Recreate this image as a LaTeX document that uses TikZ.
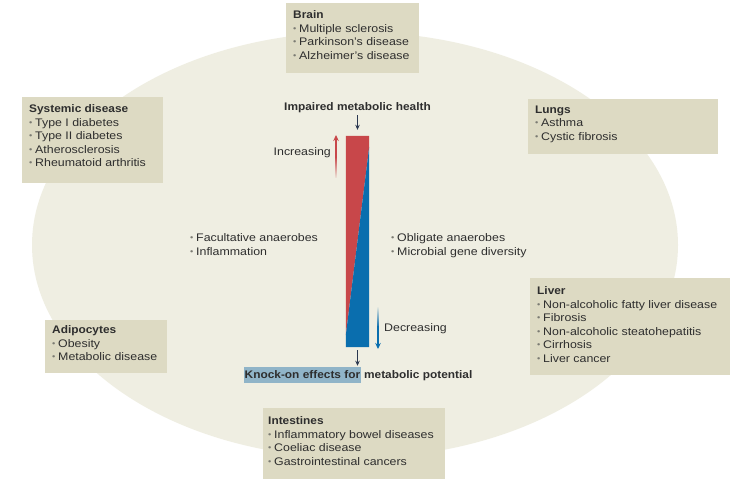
\documentclass[tikz,border=0pt]{standalone}
\usepackage{fontspec}
\setmainfont{Liberation Sans}[FakeStretch=1.125]
\newfontfamily\boldf{Liberation Sans}[FakeStretch=1.08]
\usetikzlibrary{arrows.meta,fadings}
\definecolor{ell}{HTML}{EFEEE2}
\definecolor{boxc}{HTML}{DDDAC3}
\definecolor{txtc}{HTML}{2E2E2E}
\definecolor{bulc}{HTML}{7A7A72}
\definecolor{barred}{HTML}{C8474A}
\definecolor{barblue}{HTML}{0A6EAE}
\definecolor{navy}{HTML}{2B3850}
\definecolor{hili}{HTML}{90B4C8}
\newcommand\bul{{\color{bulc}\raisebox{0.15ex}{\scalebox{0.75}{\textbullet}}}\hspace{0.25em}}
\newcommand\ttlf[1]{{\boldf\bfseries #1}}
\begin{document}
\begin{tikzpicture}[x=1pt,y=-1pt,
  every node/.style={text=txtc},
  boxst/.style={fill=boxc, draw=none, anchor=north west, inner sep=0pt},
  listtxt/.style={anchor=north west, inner sep=0pt, align=left, font=\fontsize{11}{13.5}\selectfont},
  lbl/.style={inner sep=0pt, font=\fontsize{11}{13.5}\selectfont},
  ttl/.style={inner sep=0pt, font=\fontsize{11}{13.5}\selectfont\boldf\bfseries},
  darr/.style={navy, line width=1pt, -{Stealth[length=5pt,width=4.5pt]}},
  colarr/.style={line width=1.8pt, -{Stealth[length=6pt,width=5.5pt]}}
]
\useasboundingbox (0,0) rectangle (743,484);
\fill[white] (0,0) rectangle (743,484);
\fill[ell] (355,245) ellipse [x radius=323, y radius=213];

% boxes
\node[boxst, minimum width=133, minimum height=70] (brainbox) at (286,3) {};
\node[boxst, minimum width=141, minimum height=86] (sysbox) at (22,97) {};
\node[boxst, minimum width=190, minimum height=55] (lungbox) at (528,99) {};
\node[boxst, minimum width=200, minimum height=97] (liverbox) at (530,278) {};
\node[boxst, minimum width=182, minimum height=71] (intbox) at (263,408) {};
\node[boxst, minimum width=122, minimum height=53] (adibox) at (45,320) {};

% box texts
\node[listtxt] (brain) at (293,10.5) {\ttlf{Brain}\\\bul Multiple sclerosis\\\bul Parkinson’s disease\\\bul Alzheimer’s disease};
\node[listtxt] (sys) at (29,104.5) {\ttlf{Systemic disease}\\\bul Type I diabetes\\\bul Type II diabetes\\\bul Atherosclerosis\\\bul Rheumatoid arthritis};
\node[listtxt] (lung) at (535,105.5) {\ttlf{Lungs}\\\bul Asthma\\\bul Cystic fibrosis};
\node[listtxt] (liver) at (537,286.5) {\ttlf{Liver}\\\bul Non-alcoholic fatty liver disease\\\bul Fibrosis\\\bul Non-alcoholic steatohepatitis\\\bul Cirrhosis\\\bul Liver cancer};
\node[listtxt] (int) at (268,416.5) {\ttlf{Intestines}\\\bul Inflammatory bowel diseases\\\bul Coeliac disease\\\bul Gastrointestinal cancers};
\node[listtxt] (adi) at (52,325.5) {\ttlf{Adipocytes}\\\bul Obesity\\\bul Metabolic disease};

% middle lists
\node[listtxt] (left) at (190,233.5) {\bul Facultative anaerobes\\\bul Inflammation};
\node[listtxt] (right) at (391,233.5) {\bul Obligate anaerobes\\\bul Microbial gene diversity};

% central bar
\node[minimum width=23, minimum height=211, inner sep=0pt, draw=none] (bar) at (357.5,241.5) {};
\fill[barred] (bar.north west) -- (bar.north east) -- ([yshift=-11pt]bar.north east) -- ([yshift=12pt]bar.south west) -- cycle;
\fill[barblue] ([yshift=-11pt]bar.north east) -- (bar.south east) -- (bar.south west) -- ([yshift=12pt]bar.south west) -- cycle;

% labels
\node[ttl] (imp) at (357.5,108) {Impaired metabolic health};
\draw[darr, shorten <=2pt, shorten >=6pt] (imp.south -| bar.north) -- (bar.north);

\node[ttl, fill=hili, inner xsep=0.5pt, inner ysep=4pt, anchor=west] (knockA) at (244,375) {Knock-on effects for};
\node[ttl, anchor=base west] (knockB) at ([xshift=3pt]knockA.base east) {metabolic potential};
\draw[darr, shorten <=3pt, shorten >=1pt] (bar.south) -- (bar.south |- knockA.north);

\node[lbl, anchor=east] (inc) at (331,153) {Increasing};
\node[lbl, anchor=west] (dec) at (384,329) {Decreasing};
\coordinate (incTop) at (336,135);
\coordinate (incMid) at (336,158);
\coordinate (incBot) at (336,178);
\coordinate (decTop) at (378,307);
\coordinate (decMid) at (378,326);
\coordinate (decBot) at (378,349);
\draw[barred, line width=1.8pt, path fading=south] (incBot) -- ([yshift=0.5pt]incMid);
\draw[barred, colarr] (incMid) -- (incTop);
\draw[barblue, line width=1.8pt, path fading=north] (decTop) -- ([yshift=-0.5pt]decMid);
\draw[barblue, colarr] (decMid) -- (decBot);
\end{tikzpicture}
\end{document}
